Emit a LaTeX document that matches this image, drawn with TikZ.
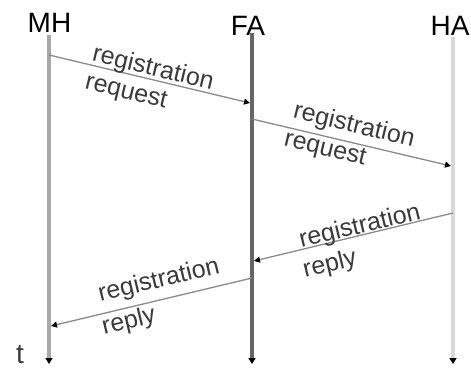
\documentclass[tikz,border=0pt]{standalone}
\usepackage{fontspec}
\setmainfont{Liberation Sans}
\usetikzlibrary{arrows.meta}
\definecolor{lmh}{HTML}{A8A8A8}
\definecolor{lfa}{HTML}{666666}
\definecolor{lha}{HTML}{D8D8D8}
\definecolor{msg}{HTML}{8A8A8A}
\definecolor{txt}{HTML}{3A3A3A}
\begin{document}
\begin{tikzpicture}[x=1pt,y=-1pt,
  head/.style={font=\fontsize{28}{32}\selectfont, text=black, inner sep=0pt},
  lifeline/.style={line width=3.5pt, -{Triangle[black,length=6pt,width=7pt]}},
  message/.style={draw=msg, line width=1.3pt, -{Triangle[black,length=6pt,width=6pt]}},
  lbl/.style={font=\fontsize{25}{30}\selectfont, text=txt, inner sep=0pt}]
\useasboundingbox (0,0) rectangle (471,367);
% headers
\node[head] (MH) at (49.5,23) {MH};
\node[head] (FA) at (248,26) {FA};
\node[head] (HA) at (450,26) {HA};
\node[head, text=txt] (t) at (20,355) {t};
% lifeline endpoints
\coordinate (MHt) at (49,35);  \coordinate (MHb) at (49,364);
\coordinate (FAt) at (252,33); \coordinate (FAb) at (252,364);
\coordinate (HAt) at (453,37); \coordinate (HAb) at (453,364);
\draw[lifeline, draw=lmh] (MHt) -- (MHb);
\draw[lifeline, draw=lfa] (FAt) -- (FAb);
\draw[lifeline, draw=lha] (HAt) -- (HAb);
% message endpoints
\coordinate (m1s) at (49,55);  \coordinate (m1e) at (250,103);
\coordinate (m2s) at (252,119); \coordinate (m2e) at (451,166);
\coordinate (m3s) at (453,213); \coordinate (m3e) at (254,261);
\coordinate (m4s) at (252,278); \coordinate (m4e) at (51,326);
\draw[message] (m1s) -- (m1e);
\draw[message] (m2s) -- (m2e);
\draw[message] (m3s) -- (m3e);
\draw[message] (m4s) -- (m4e);
% labels
\node[lbl, rotate=-13.5] (l1a) at (153,69) {registration};
\node[lbl, rotate=-13.5] (l1b) at (126,93) {request};
\node[lbl, rotate=-13.5] (l2a) at (354,126) {registration};
\node[lbl, rotate=-13.5] (l2b) at (325,150) {request};
\node[lbl, rotate=13.5] (l3a) at (360,227) {registration};
\node[lbl, rotate=13.5] (l3b) at (330,265) {reply};
\node[lbl, rotate=13.5] (l4a) at (159,281) {registration};
\node[lbl, rotate=13.5] (l4b) at (129,322) {reply};
\end{tikzpicture}
\end{document}
